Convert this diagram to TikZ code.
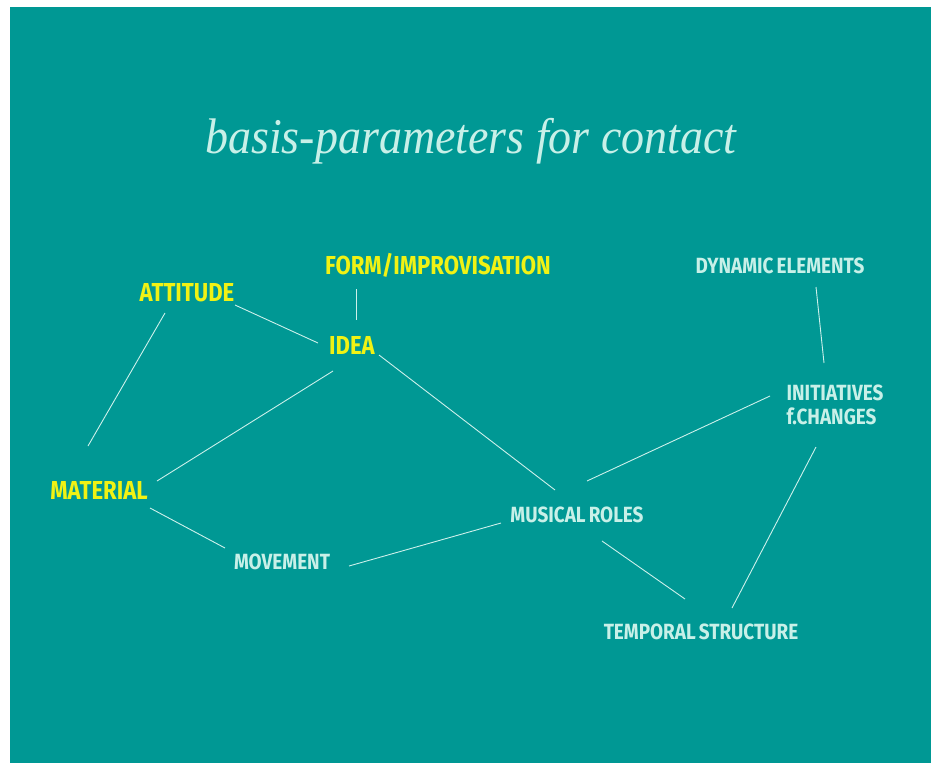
\documentclass[tikz,border=0pt]{standalone}
\usepackage{fontspec}
\setmainfont{Liberation Serif}
\newfontfamily\titlefont[FakeStretch=0.92]{Liberation Serif}
\newfontfamily\ylabfont[FakeStretch=0.85]{Fira Sans}
\newfontfamily\plabfont[FakeStretch=0.86,WordSpace=0.7]{Fira Sans}
\definecolor{teal0}{RGB}{0,152,148}
\definecolor{pale}{RGB}{200,240,232}
\definecolor{linec}{RGB}{205,240,235}
\definecolor{yel}{RGB}{240,242,20}
\begin{document}
\begin{tikzpicture}[x=1pt,y=-1pt,
  ylab/.style={inner sep=0pt,text=yel,font=\ylabfont\bfseries\fontsize{26}{26}\selectfont},
  plab/.style={inner sep=0pt,text=pale,align=left,font=\plabfont\bfseries\fontsize{22}{24}\selectfont},
  link/.style={draw=linec,line width=0.9pt}]
\fill[white] (0,0) rectangle (931,763);
\fill[teal0] (10,7) rectangle (931,763);
\node[inner sep=0pt,text=pale,font=\titlefont\itshape\fontsize{50}{50}\selectfont] (title) at (471,141) {basis-parameters for contact};
\node[ylab] (form) at (438,265) {FORM/IMPROVISATION};
\node[ylab] (att) at (187,293) {ATTITUDE};
\node[ylab] (idea) at (352,345) {IDEA};
\node[ylab] (mat) at (99,490) {MATERIAL};
\node[plab] (dyn) at (780,266) {DYNAMIC ELEMENTS};
\node[plab] (init) at (835,405) {INITIATIVES\\f.CHANGES};
\node[plab] (mus) at (577,515) {MUSICAL ROLES};
\node[plab] (mov) at (282,562) {MOVEMENT};
\node[plab] (temp) at (701,632) {TEMPORAL STRUCTURE};
\draw[link] ([shift={(48,12)}]att.center) -- ([shift={(-34,-2)}]idea.center);
\draw[link] ([shift={(-82,24)}]form.center) -- ([shift={(4,-25)}]idea.center);
\draw[link] ([shift={(-22,20)}]att.center) -- ([shift={(-11,-44)}]mat.center);
\draw[link] ([shift={(-19,26)}]idea.center) -- ([shift={(58,-9)}]mat.center);
\draw[link] ([shift={(27,10)}]idea.center) -- ([shift={(-22,-25)}]mus.center);
\draw[link] ([shift={(51,18)}]mat.center) -- ([shift={(-57,-14)}]mov.center);
\draw[link] ([shift={(67,4)}]mov.center) -- ([shift={(-76,8)}]mus.center);
\draw[link] ([shift={(10,-34)}]mus.center) -- ([shift={(-65,-9)}]init.center);
\draw[link] ([shift={(36,21)}]dyn.center) -- ([shift={(-11,-42)}]init.center);
\draw[link] ([shift={(-19,42)}]init.center) -- ([shift={(31,-24)}]temp.center);
\draw[link] ([shift={(25,26)}]mus.center) -- ([shift={(-16,-33)}]temp.center);
\end{tikzpicture}
\end{document}
